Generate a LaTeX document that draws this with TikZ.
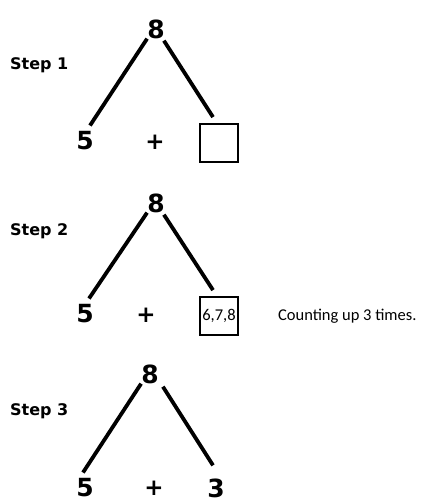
\documentclass[tikz,border=0pt]{standalone}
\usepackage{fontspec}
\setmainfont{Carlito}
\newfontfamily\heavyfont{DejaVu Sans}
\usepackage{tikz}
\usetikzlibrary{positioning}
\tikzset{
  digit/.style={inner sep=0pt, font=\heavyfont\bfseries\fontsize{25}{25}\selectfont},
  plussign/.style={inner sep=0pt, font=\heavyfont\bfseries\fontsize{23}{23}\selectfont},
  steplabel/.style={inner sep=0pt, anchor=west, font=\heavyfont\bfseries\fontsize{16}{16}\selectfont},
  blankbox/.style={draw, line width=1.8pt, minimum size=38pt, inner sep=0pt,
    font=\fontsize{16.5}{16.5}\selectfont},
  note/.style={inner sep=0pt, anchor=west, font=\fontsize{16.5}{16.5}\selectfont},
  leg/.style={line width=3.8pt}
}

\begin{document}
\begin{tikzpicture}[x=1pt, y=-1pt]
  \useasboundingbox (0,0) rectangle (423,502);

  % step 1
  \node[steplabel] (step1) at (10,65) {Step 1};
  \node[digit] (top1) at (156,29) {8};
  \node[digit] (left1) at (85,141) {5};
  \node[plussign] (plus1) at (155,142) {+};
  \node[blankbox] (box1) at (219,143) {};
  \draw[leg] (top1.south west) -- ([xshift=5pt, yshift=6pt]left1.north);
  \draw[leg] ([xshift=-1pt, yshift=-2pt]top1.south east) -- ([xshift=-6pt, yshift=6pt]box1.north);

  % step 2
  \node[steplabel] (step2) at (10,231) {Step 2};
  \node[digit] (top2) at (156,203) {8};
  \node[digit] (left2) at (85,314) {5};
  \node[plussign] (plus2) at (146,315) {+};
  \node[blankbox] (box2) at (219,316) {6,7,8};
  \node[note, right=39pt of box2] (count) {Counting up 3 times.};
  \draw[leg] (top2.south west) -- ([xshift=4pt, yshift=6pt]left2.north);
  \draw[leg] ([xshift=-1pt, yshift=-2pt]top2.south east) -- ([xshift=-6pt, yshift=6pt]box2.north);

  % step 3
  \node[steplabel] (step3) at (10,411) {Step 3};
  \node[digit] (top3) at (150,374) {8};
  \node[digit] (left3) at (85,488) {5};
  \node[plussign] (plus3) at (154,488) {+};
  \node[digit] (right3) at (216,488) {3};
  \draw[leg] (top3.south west) -- ([xshift=-2pt, yshift=6pt]left3.north);
  \draw[leg] ([xshift=4pt, yshift=-3pt]top3.south east) -- ([xshift=-3pt, yshift=13pt]right3.north);
\end{tikzpicture}
\end{document}
